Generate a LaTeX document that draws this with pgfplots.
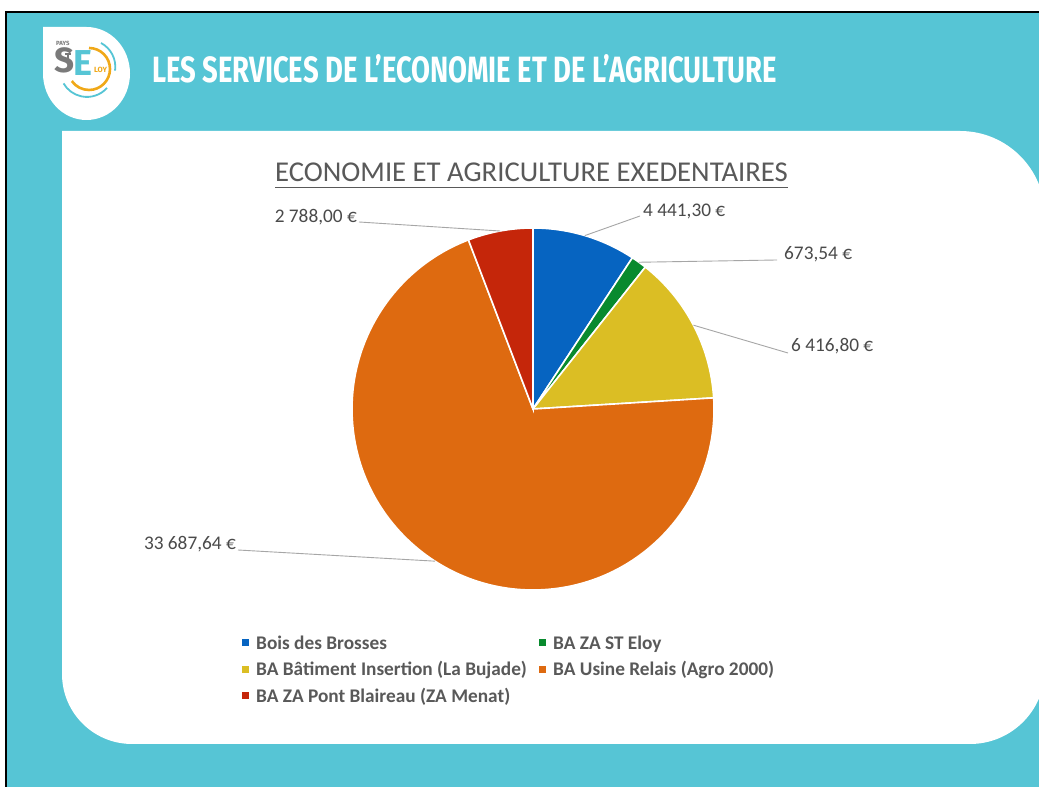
\documentclass[border=0pt]{standalone}
\usepackage{pgfplots}
\pgfplotsset{compat=1.18}
\usepackage{pgfplotstable}
\usepackage{fontspec}
\setmainfont{Carlito}
\newfontfamily\headfont{Fira Sans}
\definecolor{bg}{HTML}{56C5D5}
\definecolor{cblue}{HTML}{0664C1}
\definecolor{cgreen}{HTML}{088A2E}
\definecolor{cyellow}{HTML}{DBBE24}
\definecolor{corange}{HTML}{DE6A10}
\definecolor{cred}{HTML}{C5260A}
\definecolor{txt}{HTML}{595959}
\definecolor{labtxt}{HTML}{4A4A4A}
\definecolor{lead}{HTML}{A6A6A6}
\definecolor{logogray}{HTML}{7A7A7A}
\definecolor{logoorange}{HTML}{F0A818}
\newcommand\labelfont{\fontsize{19.3}{23}\selectfont}
\newcommand\legfont{\fontsize{19.3}{23}\selectfont\bfseries}
\pgfkeys{/pgf/number format/eur/.style={fixed, fixed zerofill, precision=2, use comma, 1000 sep={\ }, assume math mode=true}}
\newcommand\labeltext[1]{\pgfmathprintnumber[eur]{#1}~€}

\pgfplotstableread[col sep=comma]{
name,value,color,lx,ly,tx,ty,anch
Bois des Brosses,4441.30,cblue,107,193,110,192,base west
BA ZA ST Eloy,673.54,cgreen,244,149,251,149,base west
BA Bâtiment Insertion (La Bujade),6416.80,cyellow,255,56,258,57,base west
BA Usine Relais (Agro 2000),33687.64,corange,-295,-141,-297,-141,base east
BA ZA Pont Blaireau (ZA Menat),2788.00,cred,-174,187,-176,186,base east
}\piedata

\begin{document}
\begin{tikzpicture}[x=1pt,y=1pt]
\useasboundingbox (0,0) rectangle (1039,787);
\fill[white] (0,0) rectangle (1039,787);
\fill[bg] (6,0) rectangle (1039,775);
\draw[black, line width=2.2pt] (6,0) -- (6,775) -- (1039,775);
% white panel
\fill[white] (62,656) -- (960,656) arc[start angle=90,end angle=0,radius=85] -- (1045,118)
  arc[start angle=0,end angle=-90,radius=75] -- (132,43)
  arc[start angle=-90,end angle=-180,radius=70] -- cycle;
% logo
\fill[white] (43,760) -- (86.5,760) arc[start angle=90,end angle=-180,x radius=43.5,y radius=46.5] -- cycle;
\draw[logoorange, line width=2.6pt] (89,739) arc[start angle=90,end angle=-145,radius=21];
\draw[bg, line width=1.8pt] (101,744) arc[start angle=62,end angle=-8,radius=27];
\draw[bg, line width=1.8pt] (107,699) arc[start angle=-42,end angle=-150,radius=27];
\node[anchor=base west, inner sep=0, text=logogray, font=\headfont\bfseries\fontsize{6}{6}\selectfont] at (56,741) {PAYS};
\node[anchor=base west, inner sep=0, text=logogray, font=\headfont\bfseries\fontsize{35}{35}\selectfont] at (54,714) {S};
\draw[logogray, line width=1.3pt] (65,733) -- (71,733) (68,733) -- (68,726);
\node[anchor=base west, inner sep=0, text=bg, font=\headfont\bfseries\fontsize{36}{36}\selectfont] at (73,711) {E};
\node[anchor=base west, inner sep=0, text=logoorange, font=\headfont\bfseries\fontsize{7.5}{7.5}\selectfont] at (94,714) {LOY};
% header
\node[anchor=base west, inner sep=0, text=white] at (152,704) {\resizebox{625pt}{28pt}{\headfont\bfseries LES SERVICES DE L’ECONOMIE ET DE L’AGRICULTURE}};
% chart title
\node[anchor=base west, inner sep=0, text=txt, font=\fontsize{28.7}{32}\selectfont] (T) at (275,605) {ECONOMIE ET AGRICULTURE EXEDENTAIRES};
\draw[txt, line width=1.5pt] ([yshift=-5.5pt]T.base west) -- ([yshift=-5.5pt]T.base east);

\begin{axis}[at={(533,378)}, anchor=origin, x=1pt, y=1pt,
  xmin=-200, xmax=200, ymin=-200, ymax=200, hide axis, clip=false]
\pgfplotstablegetrowsof{\piedata}
\pgfmathtruncatemacro\lastrow{\pgfplotsretval-1}
\def\total{0}
\pgfplotsforeachungrouped \i in {0,...,\lastrow}{%
  \pgfplotstablegetelem{\i}{value}\of\piedata
  \edef\total{\fpeval{\total+\pgfplotsretval}}}
\def\cum{0}
\pgfplotsforeachungrouped \i in {0,...,\lastrow}{%
  \pgfplotstablegetelem{\i}{value}\of\piedata \let\val\pgfplotsretval
  \pgfplotstablegetelem{\i}{color}\of\piedata \let\col\pgfplotsretval
  \pgfplotstablegetelem{\i}{lx}\of\piedata \let\lx\pgfplotsretval
  \pgfplotstablegetelem{\i}{ly}\of\piedata \let\ly\pgfplotsretval
  \pgfplotstablegetelem{\i}{tx}\of\piedata \let\tx\pgfplotsretval
  \pgfplotstablegetelem{\i}{ty}\of\piedata \let\ty\pgfplotsretval
  \pgfplotstablegetelem{\i}{anch}\of\piedata \let\anch\pgfplotsretval
  \edef\sa{\fpeval{round(90-360*\cum/\total,4)}}%
  \edef\ea{\fpeval{round(90-360*(\cum+\val)/\total,4)}}%
  \edef\ma{\fpeval{(\sa+\ea)/2}}%
  \edef\xs{\fpeval{round(181*cosd(\sa),4)}}%
  \edef\ys{\fpeval{round(181*sind(\sa),4)}}%
  \edef\xm{\fpeval{round(181*cosd(\ma),4)}}%
  \edef\ym{\fpeval{round(181*sind(\ma),4)}}%
  \edef\temp{%
    \noexpand\fill[\col, draw=white, line width=1.6pt] (0,0) -- (\xs,\ys) arc[start angle=\sa, end angle=\ea, radius=181pt] -- cycle;
    \noexpand\draw[lead, line width=0.9pt] (\xm,\ym) -- (\lx,\ly);
    \noexpand\node[anchor=\anch, inner sep=0pt, text=labtxt, font=\noexpand\labelfont] at (\tx,\ty) {\noexpand\labeltext{\val}};
  }%
  \temp
  \edef\cum{\fpeval{\cum+\val}}%
}
\end{axis}

% legend
\pgfplotsforeachungrouped \i in {0,...,4}{%
  \pgfplotstablegetelem{\i}{name}\of\piedata \let\nm\pgfplotsretval
  \pgfplotstablegetelem{\i}{color}\of\piedata \let\col\pgfplotsretval
  \pgfmathsetmacro\lxx{242+297*mod(\i,2)}
  \pgfmathsetmacro\lyy{787-643-26.5*floor(\i/2)}
  \fill[\col] (\lxx,\lyy-3.5) rectangle ++(7,7);
  \node[anchor=base west, inner sep=0, text=txt, font=\legfont] at (\lxx+14,\lyy-6.3) {\nm};
}
\end{tikzpicture}
\end{document}
